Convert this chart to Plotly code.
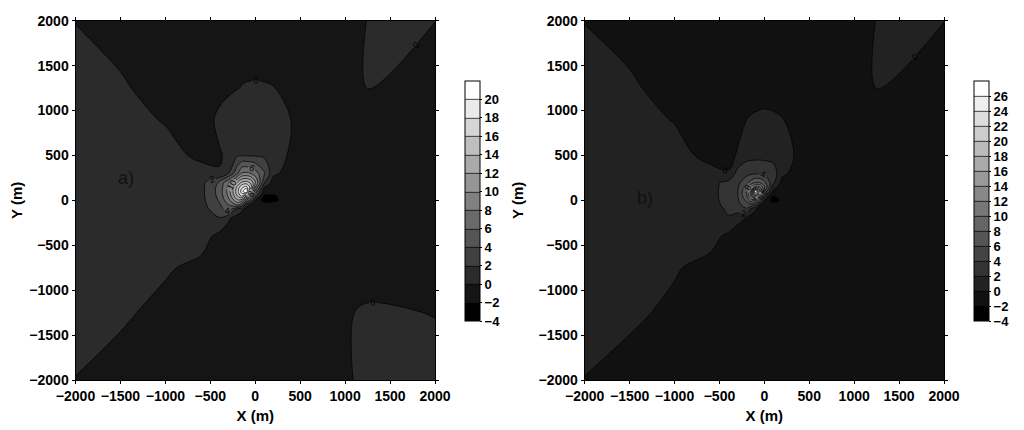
import plotly.graph_objects as go

# grid nodes (m), denser near the source
x_m = [-2000, -1500, -1000, -600, -400, -300, -200, -150, -100, -50, 0, 100, 200, 400, 750, 1250, 2000]
y_m = [-2000, -1250, -750, -400, -200, -100, -50, 0, 50, 100, 150, 200, 300, 500, 900, 1250, 2000]

# panel a) values, one row per y node
z_a = [
    [-0.05, -1, -1, -1, -1, -1, -1, -1, -1, -1, -1, -1, -1, -1, -1, 0.48, 1.0],
    [0.8, 0.39, -0.69, -1, -1, -1, -1, -1, -1, -1, -1, -1, -1, -1, -1, 0.41, -0.09],
    [1, 1, 0.27, -0.6, -1, -1, -1, -1, -1, -1, -1, -1, -1, -1, -1, -1.5, -1],
    [1, 1, 1, 0.9, -0.6, -1, -1, -1, -1, -1, -1, -1, -1, -1, -1, -1, -1],
    [1, 1, 1, 1.12, 1.87, 0.3, -0.8, -1, -1, -1, -1, -1, -1, -1, -1, -1, -1],
    [1, 1, 1, 1.2, 3.05, 4.99, 1.2, 0.3, -0.8, -1, -1, -1, -1, -1, -1, -1, -1],
    [1, 1, 1, 1.29, 3.67, 5.94, 8.2, 5.74, 1.0, -0.6, -1, -1, -1, -1, -1, -1, -1],
    [1, 1, 1, 1.37, 4.18, 7.3, 11.6, 10.7, 6.3, 3.33, -0.2, -2.8, -2.4, -1, -1, -1, -1],
    [1, 1, 1, 1.42, 4.55, 8.28, 14.0, 16.75, 11.9, 5.97, 2.9, -2.2, -2.2, -1, -1, -1, -1],
    [1, 1, 1, 1.44, 4.7, 8.68, 15.2, 18.95, 23.0, 10.8, 5.2, -1, -1, -1, -1, -1, -1],
    [1, 1, 1, 1.42, 4.6, 8.42, 14.4, 17.45, 18.5, 15.2, 8.33, 0.2, -1, -1, -1, -1, -1],
    [1, 1, 1, 1.38, 4.27, 7.52, 12.08, 14.2, 14.8, 13.5, 10.34, 2.2, -0.8, -1, -1, -1, -1],
    [1, 1, 1, 1.0, 0.1, 2.0, 5.5, 8.2, 8.4, 7.95, 6.97, 4.3, 0.4, -0.8, -1, -1, -1],
    [1, 1, 1, -0.6, -0.15, 0.3, 1.8, 1.85, 1.85, 1.85, 1.8, 1.6, 1.3, -0.4, -1, -1, -1],
    [1, 1, -0.21, -1, 0.4, 0.8, 1.0, 1.0, 1.0, 1.0, 1.0, 1.0, 0.9, -0.02, -1, -1, -1],
    [0.8, 0.32, -1, -1, -0.6, -0.3, -0.05, 0.05, 0.1, 0.12, 0.13, 0.1, 0.05, -1, -1, 0.02, -1],
    [-0.05, -1, -1, -1, -1, -1, -1, -1, -1, -1, -1, -1, -1, -1, -1, 0.03, 0.02],
]

# panel b) values
z_b = [
    [-0.05, -1, -1, -1, -1, -1, -1, -1, -1, -1, -1, -1, -1, -1, -1, -1, -1],
    [0.8, 0.48, -0.52, -1, -1, -1, -1, -1, -1, -1, -1, -1, -1, -1, -1, -1, -1],
    [1, 1, 0.22, -0.76, -1, -1, -1, -1, -1, -1, -1, -1, -1, -1, -1, -1, -1],
    [1, 1, 1, 0.8, -0.5, -1, -1, -1, -1, -1, -1, -1, -1, -1, -1, -1, -1],
    [1, 1, 1, 1.33, 1.89, 0.6, -0.1, -1, -1, -1, -1, -1, -1, -1, -1, -1, -1],
    [1, 1, 1, 1.4, 2.2, 2.99, 3.7, 1.5, 0.2, -1, -1, -1, -1, -1, -1, -1, -1],
    [1, 1, 1, 1.45, 2.42, 3.33, 4.92, 5.2, 3.6, 0.2, -1, -1.2, -1, -1, -1, -1, -1],
    [1, 1, 1, 1.5, 2.56, 3.6, 6.39, 9.1, 7.25, 3.68, 0.1, -2.8, -1.5, -1, -1, -1, -1],
    [1, 1, 1, 1.52, 2.62, 3.74, 7.75, 12.15, 20.5, 7.53, 2.0, -1.95, -1.2, -1, -1, -1, -1],
    [1, 1, 1, 1.52, 2.63, 3.75, 7.89, 12.68, 29.0, 18.5, 5.6, -0.3, -1, -1, -1, -1, -1],
    [1, 1, 1, 1.5, 2.58, 3.63, 6.74, 9.67, 12.7, 12.15, 8.35, 0.8, -1, -1, -1, -1, -1],
    [1, 1, 1, 1.46, 2.45, 3.4, 5.2, 6.74, 7.9, 7.75, 6.39, 2.4, -0.6, -1, -1, -1, -1],
    [1, 1, 1, 0.8, 0.1, 2.7, 3.4, 3.63, 3.75, 3.74, 3.6, 2.99, 0.4, -1, -1, -1, -1],
    [1, 1, 1, -0.8, -0.5, 0.15, 1.3, 1.35, 1.4, 1.4, 1.35, 1.25, 1.0, -0.55, -1, -1, -1],
    [1, 1, -0.14, -1, -1, -0.6, -0.02, 0.18, 0.32, 0.43, 0.52, 0.35, 0.09, -1, -1, -1, -1],
    [0.8, 0.39, -1, -1, -1, -1, -1, -1, -1, -1, -1, -1, -1, -1, -1, 0.02, -1],
    [-0.05, -1, -1, -1, -1, -1, -1, -1, -1, -1, -1, -1, -1, -1, -1, 0.03, 0.02],
]

axis_ticks = [-2000, -1500, -1000, -500, 0, 500, 1000, 1500, 2000]
cbar_ticks_a = [-4, -2, 0, 2, 4, 6, 8, 10, 12, 14, 16, 18, 20]
cbar_ticks_b = [-4, -2, 0, 2, 4, 6, 8, 10, 12, 14, 16, 18, 20, 22, 24, 26]
panel_labels = ["a)", "b)"]

# the page body adds an 8 px margin, so the figure is 8 px smaller
# and window pixel positions are shifted by that much
OFF = 8
W, H = 1024 - OFF, 430 - OFF


def fx(px):
    return (px - OFF) / W


def fy(py):
    return 1 - (py - OFF) / H


FONT = "Liberation Sans"
tick_font = dict(family=FONT, size=14, color="black", weight="bold")
cb_font = dict(family=FONT, size=13, color="black", weight="bold")
title_font = dict(family=FONT, size=15, color="black", weight="bold")
grays = [[0, "#000000"], [1, "#ffffff"]]


def cbar(x_px, ticks):
    return dict(
        x=fx(x_px), xanchor="left", xpad=0,
        y=fy(201), yanchor="middle", ypad=0,
        len=240, lenmode="pixels", thickness=15, thicknessmode="pixels",
        outlinecolor="black", outlinewidth=1,
        tickvals=ticks, ticks="outside", ticklen=2, tickcolor="black",
        tickfont=cb_font,
    )


fig = go.Figure()
fig.add_trace(go.Contour(
    x=x_m, y=y_m, z=z_a, xaxis="x", yaxis="y",
    colorscale=grays, autocontour=False, zauto=False, zmin=-4, zmax=22,
    contours=dict(start=-2, end=20, size=2, coloring="fill", showlabels=True,
                  labelfont=dict(family=FONT, size=9, color="black")),
    line=dict(color="black", width=0.7),
    colorbar=cbar(465, cbar_ticks_a),
))
fig.add_trace(go.Contour(
    x=x_m, y=y_m, z=z_b, xaxis="x2", yaxis="y2",
    colorscale=grays, autocontour=False, zauto=False, zmin=-4, zmax=28,
    contours=dict(start=-2, end=26, size=2, coloring="fill", showlabels=True,
                  labelfont=dict(family=FONT, size=9, color="black")),
    line=dict(color="black", width=0.7),
    colorbar=cbar(974, cbar_ticks_b),
))

ax = dict(range=[-2000, 2000], tickvals=axis_ticks, showgrid=False, zeroline=False,
          showline=True, linecolor="black", linewidth=1, mirror="ticks",
          ticks="outside", ticklen=3, tickcolor="black", tickfont=tick_font,
          automargin=False)
ydom = [fy(380), fy(20.7)]
fig.update_layout(
    width=W, height=H, margin=dict(l=0, r=0, t=0, b=0, autoexpand=False),
    font=dict(family=FONT, color="black"),
    paper_bgcolor="white", plot_bgcolor="white", showlegend=False,
    xaxis=dict(ax, domain=[fx(75.5), fx(435)], anchor="y",
               title=dict(text="X (m)", font=title_font, standoff=7)),
    yaxis=dict(ax, domain=ydom, anchor="x",
               title=dict(text="Y (m)", font=title_font, standoff=11)),
    xaxis2=dict(ax, domain=[fx(584.7), fx(944)], anchor="y2",
                title=dict(text="X (m)", font=title_font, standoff=7)),
    yaxis2=dict(ax, domain=ydom, anchor="x2",
                title=dict(text="Y (m)", font=title_font, standoff=11)),
    annotations=[
        dict(x=-1441, y=249, xref="x", yref="y", text=panel_labels[0], showarrow=False,
             font=dict(family=FONT, size=18, color="#111111")),
        dict(x=-1325, y=23, xref="x2", yref="y2", text=panel_labels[1], showarrow=False,
             font=dict(family=FONT, size=18, color="#111111")),
    ],
)

fig.write_html("out.html")
